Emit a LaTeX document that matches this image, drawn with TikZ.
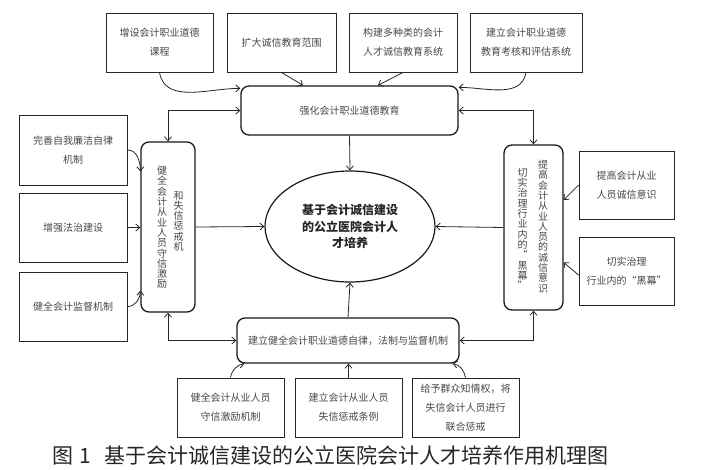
\documentclass[tikz,border=0pt]{standalone}
\usepackage{fontspec}
\setmainfont{Noto Sans CJK SC}
\usetikzlibrary{arrows.meta,shapes.geometric}

\begin{document}
\begin{tikzpicture}[x=1pt,y=-1pt,
  box/.style={draw=black!85,line width=0.9pt,align=center,inner sep=0pt,
    text=black!72,font=\fontsize{10}{19}\selectfont},
  roundbox/.style={draw=black!90,line width=1.3pt,rounded corners=8pt,inner sep=0pt},
  vcol/.style={align=center,inner sep=0pt,text=black!72,font=\fontsize{10}{10.3}\selectfont},
  link/.style={draw=black!85,line width=0.8pt,-{Straight Barb[length=4pt,width=7pt]}},
  duallink/.style={link,{Straight Barb[length=4pt,width=7pt]}-{Straight Barb[length=4pt,width=7pt]}}]
\useasboundingbox (0,0) rectangle (703,469);
  % top boxes
\node[box,minimum width=107pt,minimum height=59pt] (t1) at (159.5,42.5) {增设会计职业道德\\课程};
\node[box,minimum width=109pt,minimum height=59pt] (t2) at (281.5,42.5) {扩大诚信教育范围};
\node[box,minimum width=108pt,minimum height=59pt] (t3) at (403,42.5) {构建多种类的会计\\人才诚信教育系统};
\node[box,minimum width=112pt,minimum height=59pt] (t4) at (526,42.5) {建立会计职业道德\\教育考核和评估系统};
  % education
\node[box,roundbox,minimum width=217pt,minimum height=49pt,text=black!72] (edu) at (349.5,110.5) {强化会计职业道德教育};
  % left side
\node[box,minimum width=108pt,minimum height=70pt] (l1) at (73,150) {完善自我廉洁自律\\机制};
\node[box,minimum width=108pt,minimum height=69pt] (l2) at (73,227.5) {增强法治建设};
\node[box,minimum width=108pt,minimum height=69pt] (l3) at (73,306.5) {健全会计监督机制};
\node[roundbox,minimum width=54pt,minimum height=170pt] (lbox) at (168,227) {};
\node[vcol] (lcolA) at (162,227.5) {健\\全\\会\\计\\从\\业\\人\\员\\守\\信\\激\\励};
\node[vcol] (lcolB) at (178.5,221) {和\\失\\信\\惩\\戒\\机};
  % right side
\node[roundbox,minimum width=59pt,minimum height=165pt] (rbox) at (533.5,227.5) {};
\node[vcol] (rcolA) at (543,226.5) {提\\高\\会\\计\\从\\业\\人\\员\\的\\诚\\信\\意\\识};
\node[vcol] (rcolB) at (522.5,229) {切\\实\\治\\理\\行\\业\\内\\的\\“\\黑\\幕\\”};
\node[box,minimum width=95pt,minimum height=68pt] (r1) at (626.5,185) {提高会计从业\\人员诚信意识};
\node[box,minimum width=95pt,minimum height=68pt] (r2) at (626.5,271) {切实治理\\行业内的“黑幕”};
  % core
\node[draw=black!90,line width=1.2pt,ellipse,minimum width=170pt,minimum height=111pt,
  align=center,inner sep=0pt,text=black!85,font=\fontsize{12}{16.5}\selectfont\bfseries] (core) at (350,226.5)
  {基于会计诚信建设\\的公立医院会计人\\才培养};
  % mechanism
\node[box,roundbox,minimum width=222pt,minimum height=45pt,text=black!72] (mech) at (348,340.5) {建立健全会计职业道德自律，法制与监督机制};
\node[box,minimum width=107pt,minimum height=59pt] (b1) at (230.5,407.5) {健全会计从业人员\\守信激励机制};
\node[box,minimum width=107pt,minimum height=59pt] (b2) at (348.5,407.5) {建立会计从业人员\\失信惩戒条例};
\node[box,minimum width=107pt,minimum height=59pt] (b3) at (465.5,407.5) {给予群众知情权，将\\失信会计人员进行\\联合惩戒};
  % caption
\node[anchor=west,inner sep=0pt,text=black!85,font=\fontsize{21}{21}\selectfont] (cap) at (52,455)
  {图\hspace{6pt}1\hspace{14pt}基于会计诚信建设的公立医院会计人才培养作用机理图};
  % connectors
\draw[link] (t1.south) to[out=-80,in=180] ([yshift=-3pt]edu.north west);
\draw[link] (t2.south) -- ([xshift=-46.5pt]edu.north);
\draw[link] (t3.south) -- ([xshift=28.5pt]edu.north);
\draw[link] (t4.south) to[out=-100,in=0] ([yshift=-2pt]edu.north east);
\draw[duallink] (edu.west) -| (lbox.north);
\draw[duallink] (edu.east) -| (rbox.north);
\draw[link] (edu.south) -- (core.north);
\draw[link] (lbox.east) -- (core.west);
\draw[link] (rbox.west) -- (core.east);
\draw[link] (mech.north) -- (core.south);
\draw[duallink] (lbox.south) |- (mech.west);
\draw[duallink] (rbox.south) |- (mech.east);
\draw[link] (l1.east) to[out=0,in=90] ([yshift=-30pt]lbox.north west);
\draw[link] (l2.east) -- (l2.east -| lbox.west);
\draw[link] (l3.east) to[out=0,in=-90] ([yshift=22pt]lbox.south west);
\draw[link] (r1.west) -- ([yshift=27.5pt]rbox.east);
\draw[link] ([yshift=-4pt]r2.west) -- ([yshift=-35pt]rbox.east);
\draw[link] (b1.north) to[out=80,in=190] ([xshift=8pt]mech.south west);
\draw[link] (b2.north) -- (b2.north |- mech.south);
\draw[link] (b3.north) to[out=100,in=-10] ([xshift=-7pt]mech.south east);
\end{tikzpicture}
\end{document}
